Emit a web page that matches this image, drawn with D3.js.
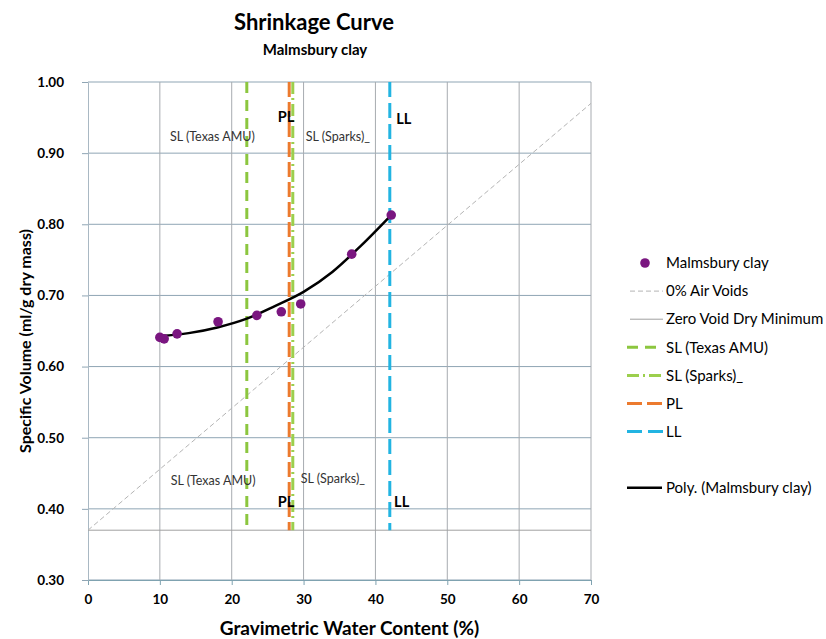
<!DOCTYPE html>
<html>
<head>
<meta charset="utf-8">
<script src="https://cdn.jsdelivr.net/npm/d3@7"></script>
<style>
body { margin: 0; background: #fff; }
svg text { font-family: Lato, "Open Sans", sans-serif; fill: #000; }
</style>
</head>
<body>
<svg id="chart" width="826" height="639"></svg>
<script>
// measured points: gravimetric water content (%) and specific volume (ml/g)
var waterContent = [10.0, 10.6, 12.4, 18.1, 23.5, 26.9, 29.6, 36.7, 42.2];
var specVolume = [0.641, 0.639, 0.646, 0.663, 0.672, 0.677, 0.688, 0.758, 0.813];

// poly trendline
var polyW = [10, 14, 18, 22, 26, 30, 34, 38, 42.2];
var polyV = [0.643, 0.647, 0.655, 0.667, 0.685, 0.705, 0.733, 0.770, 0.813];

// 0% air voids line and zero void dry minimum
var airVoidsW = [0, 70];
var airVoidsV = [0.37, 0.97];
var zeroVoidW = [0, 70];
var zeroVoidV = [0.37, 0.37];

// limits (water content %)
var limitNames = ["SL (Texas AMU)", "SL (Sparks)_", "PL", "LL"];
var limitValues = [22.1, 28.5, 28.0, 42.0];
var limitRange = [0.37, 1.0];

var xTicks = [0, 10, 20, 30, 40, 50, 60, 70];
var yTicks = [0.30, 0.40, 0.50, 0.60, 0.70, 0.80, 0.90, 1.00];

// labels written on the plot
var noteText = ["SL (Texas AMU)", "PL", "SL (Sparks)_", "LL", "SL (Texas AMU)", "SL (Sparks)_", "PL", "LL"];
var noteW = [11.4, 26.4, 30.3, 42.9, 11.5, 29.6, 26.4, 42.6];
var noteV = [0.923, 0.951, 0.923, 0.948, 0.440, 0.442, 0.410, 0.410];

var legendNames = ["Malmsbury clay", "0% Air Voids", "Zero Void Dry Minimum", "SL (Texas AMU)",
	"SL (Sparks)_", "PL", "LL", "", "Poly. (Malmsbury clay)"];

window.onload = function() {

	var margin = {top: 82, left: 88},
		width = 503,
		height = 498;

	var x = d3.scaleLinear().domain([0, 70]).range([0, width]),
		y = d3.scaleLinear().domain([0.3, 1.0]).range([height, 0]);

	var svg = d3.select("#chart");
	var g = svg.append("g")
		.attr("transform", "translate(" + margin.left + "," + margin.top + ")");

	// styles for the limit lines
	var limitStyle = {
		"SL (Texas AMU)": {color: "#8cc63f", dash: "11,7"},
		"SL (Sparks)_": {color: "#9ccf4d", dash: "12,4,2,4"},
		"PL": {color: "#ec7a2e", dash: "15,5"},
		"LL": {color: "#22b4e2", dash: "15,6"}
	};

	// horizontal grid
	g.selectAll(".hgrid")
		.data(yTicks)
	  .enter().append("line")
		.attr("x1", 0).attr("x2", width)
		.attr("y1", function(d) { return y(d); })
		.attr("y2", function(d) { return y(d); })
		.attr("stroke", "#8fa5b4")
		.attr("stroke-width", 1);

	// vertical grid
	g.selectAll(".vgrid")
		.data(xTicks.slice(1))
	  .enter().append("line")
		.attr("y1", 0).attr("y2", height)
		.attr("x1", function(d) { return x(d); })
		.attr("x2", function(d) { return x(d); })
		.attr("stroke", "#a7abb0")
		.attr("stroke-width", 1);

	// axes
	var xAxis = g.append("g")
		.attr("transform", "translate(0," + height + ")")
		.call(d3.axisBottom(x).tickValues(xTicks).tickSizeInner(5).tickSizeOuter(0).tickPadding(9));
	var yAxis = g.append("g")
		.call(d3.axisLeft(y).tickValues(yTicks).tickFormat(d3.format(".2f"))
			.tickSizeInner(6).tickSizeOuter(0).tickPadding(18));
	xAxis.select(".domain").attr("stroke", "#7fa2b0");
	xAxis.selectAll(".tick line").attr("stroke", "#7fa2b0");
	yAxis.select(".domain").attr("stroke", "#a9b8c3");
	yAxis.selectAll(".tick line").attr("stroke", "#8fa5b4");
	[xAxis, yAxis].forEach(function(a) {
		a.selectAll(".tick text")
			.attr("font-size", 13.5)
			.attr("font-weight", "bold")
			.attr("fill", "#000");
	});

	// zero void dry minimum
	var line = d3.line()
		.x(function(d) { return x(d[0]); })
		.y(function(d) { return y(d[1]); });

	g.append("path")
		.attr("d", line(d3.zip(zeroVoidW, zeroVoidV)))
		.attr("fill", "none")
		.attr("stroke", "#a0a0a0")
		.attr("stroke-width", 1);

	// 0% air voids
	g.append("path")
		.attr("d", line(d3.zip(airVoidsW, airVoidsV)))
		.attr("fill", "none")
		.attr("stroke", "#b4b4b4")
		.attr("stroke-width", 1)
		.attr("stroke-dasharray", "5,3");

	// limit lines
	limitNames.forEach(function(name, i) {
		g.append("line")
			.attr("x1", x(limitValues[i])).attr("x2", x(limitValues[i]))
			.attr("y1", y(limitRange[1])).attr("y2", y(limitRange[0]))
			.attr("stroke", limitStyle[name].color)
			.attr("stroke-width", 3)
			.attr("stroke-dasharray", limitStyle[name].dash);
	});

	// notes on the plot
	noteText.forEach(function(t, i) {
		var bold = (t == "PL" || t == "LL");
		g.append("text")
			.attr("x", x(noteW[i]))
			.attr("y", y(noteV[i]))
			.attr("dy", "0.35em")
			.attr("font-size", bold ? 14.5 : 12.5)
			.attr("font-weight", bold ? "bold" : "normal")
			.style("fill", bold ? "#000" : "#333")
			.text(t);
	});

	// poly trendline
	g.append("path")
		.attr("d", d3.line()
			.x(function(d) { return x(d[0]); })
			.y(function(d) { return y(d[1]); })
			.curve(d3.curveMonotoneX)(d3.zip(polyW, polyV)))
		.attr("fill", "none")
		.attr("stroke", "#000")
		.attr("stroke-width", 2.5);

	// measured points
	g.selectAll(".dot")
		.data(d3.zip(waterContent, specVolume))
	  .enter().append("circle")
		.attr("cx", function(d) { return x(d[0]); })
		.attr("cy", function(d) { return y(d[1]); })
		.attr("r", 4.8)
		.attr("fill", "#7a1680");

	// titles
	svg.append("text")
		.attr("x", 314).attr("y", 30)
		.attr("text-anchor", "middle")
		.attr("font-size", 22)
		.attr("font-weight", "bold")
		.text("Shrinkage Curve");
	svg.append("text")
		.attr("x", 315).attr("y", 55)
		.attr("text-anchor", "middle")
		.attr("font-size", 15)
		.attr("font-weight", "bold")
		.text("Malmsbury clay");
	svg.append("text")
		.attr("x", margin.left + width / 2 + 10).attr("y", 635)
		.attr("text-anchor", "middle")
		.attr("font-size", 19)
		.attr("font-weight", "bold")
		.text("Gravimetric Water Content (%)");
	svg.append("text")
		.attr("transform", "translate(31," + (margin.top + height / 2 + 10) + ") rotate(-90)")
		.attr("text-anchor", "middle")
		.attr("font-size", 16)
		.attr("font-weight", "bold")
		.text("Specific Volume (ml/g dry mass)");

	// legend
	var legend = svg.append("g").attr("transform", "translate(627,263)");
	legendNames.forEach(function(name, i) {
		if (name == "") return;
		var ly = i * 28.1;
		var item = legend.append("g").attr("transform", "translate(0," + ly + ")");
		if (i == 0) {
			item.append("circle").attr("cx", 18).attr("cy", 0).attr("r", 4.8).attr("fill", "#7a1680");
		} else if (i == 1) {
			item.append("line").attr("x1", 3).attr("x2", 36).attr("y1", 0).attr("y2", 0)
				.attr("stroke", "#b4b4b4").attr("stroke-dasharray", "5,3");
		} else if (i == 2) {
			item.append("line").attr("x1", 3).attr("x2", 36).attr("y1", 0).attr("y2", 0)
				.attr("stroke", "#a0a0a0");
		} else if (limitStyle[name]) {
			item.append("line").attr("x1", 0).attr("x2", 36).attr("y1", 0).attr("y2", 0)
				.attr("stroke", limitStyle[name].color).attr("stroke-width", 3)
				.attr("stroke-dasharray", limitStyle[name].dash);
		} else {
			item.append("line").attr("x1", 0).attr("x2", 35).attr("y1", 0).attr("y2", 0)
				.attr("stroke", "#000").attr("stroke-width", 2.5);
		}
		item.append("text")
			.attr("x", 39).attr("y", 0).attr("dy", "0.35em")
			.attr("font-size", 15)
			.text(name);
	});
};
</script>
</body>
</html>
